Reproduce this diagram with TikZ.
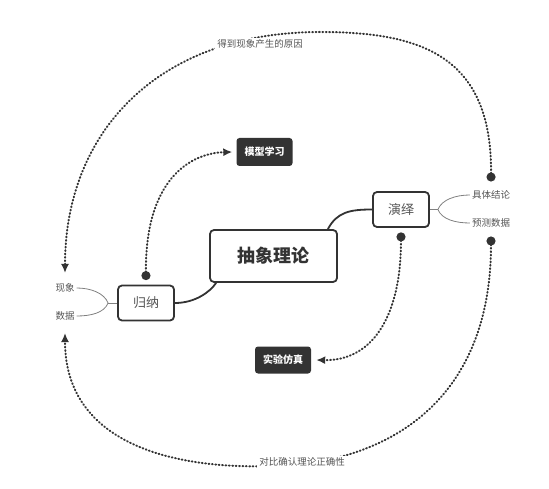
\documentclass[tikz,border=0pt]{standalone}
\usepackage{fontspec}
\setmainfont{Noto Sans CJK SC}
\usetikzlibrary{arrows.meta}
\definecolor{mapdark}{HTML}{333333}
\definecolor{mapgray}{HTML}{555555}
\definecolor{mapline}{HTML}{808080}

\begin{document}
\begin{tikzpicture}[x=1pt,y=-1pt,
    topic/.style={draw=mapdark,line width=1.8pt,rounded corners=4pt,fill=white,text=mapdark},
    tag/.style={fill=mapdark,rounded corners=3pt,text=white,font=\fontsize{10}{12}\selectfont\bfseries,minimum width=56pt,minimum height=27pt},
    leaf/.style={text=mapgray,font=\fontsize{9.5}{11}\selectfont,inner sep=2pt},
    link/.style={draw=mapdark,line width=1.8pt},
    twig/.style={draw=mapline,line width=0.8pt},
    flow/.style={draw=mapdark,line width=2pt,line cap=round,dash pattern=on 0.8pt off 2.6pt,arrows={Circle[length=9pt]-Latex[length=9pt,width=8pt]}}]
  \useasboundingbox (0,0) rectangle (549,489);
  \node[topic,minimum width=127pt,minimum height=52pt,font=\fontsize{18}{20}\selectfont\bfseries] (theory) at (273.5,256) {抽象理论};
  \node[topic,minimum width=56pt,minimum height=35pt,font=\fontsize{13}{15}\selectfont,text=mapgray] (induct) at (146,303) {归纳};
  \node[topic,minimum width=56pt,minimum height=35pt,font=\fontsize{13}{15}\selectfont,text=mapgray] (deduct) at (401,209.5) {演绎};
  \node[tag,minimum height=28pt] (model) at (264.5,152) {模型学习};
  \node[tag] (sim) at (283,360) {实验仿真};
  \node[leaf] (phen) at (65,288) {现象};
  \node[leaf] (data) at (65,316) {数据};
  \node[leaf] (concl) at (491,195) {具体结论};
  \node[leaf] (pred) at (491,223) {预测数据};
  \coordinate (up) at (491,181.5);
  \coordinate (down) at (491,236.5);
  \coordinate (phenIn) at (65,273);
  \coordinate (dataIn) at (65,333);
  % theory to its two branches
  \draw[link] ([xshift=-10pt]theory.north east) .. controls (337,212) and (350,209.5) .. (deduct.west);
  \draw[link] (induct.east) .. controls (195,303) and (210,292) .. ([xshift=7pt]theory.south west);
  \draw[twig] (induct.west) -- ++(-9,0) coordinate (ifork);
  \draw[twig] (deduct.east) -- ++(8,0) coordinate (dfork);
  \foreach \n/\dy in {phen/-10,data/10}
    \draw[twig] (ifork) .. controls +(-4,\dy) and +(14,0) .. (\n.east);
  \foreach \n/\dy in {concl/-10,pred/10}
    \draw[twig] (dfork) .. controls +(4,\dy) and +(-14,0) .. (\n.west);
  % dotted loops
  \draw[flow] ([yshift=4.5pt]induct.north) .. controls (145,180) and (190,153) .. ([xshift=-4pt]model.west);
  \draw[flow] ([yshift=-4.5pt]deduct.south) .. controls (401,320) and (370,361) .. ([xshift=5pt]sim.east);
  \draw[flow] (up) .. controls (492,55) and (420,32) .. (320,32) .. controls (160,32) and (65,130) .. (phenIn);
  \draw[flow] (down) .. controls (491,400) and (390,455) .. (300,464) .. controls (210,473) and (65,460) .. (dataIn);
  \node[leaf,fill=white] (reason) at (260,44) {得到现象产生的原因};
  \node[leaf,fill=white] (verify) at (302,462) {对比确认理论正确性};
\end{tikzpicture}
\end{document}
